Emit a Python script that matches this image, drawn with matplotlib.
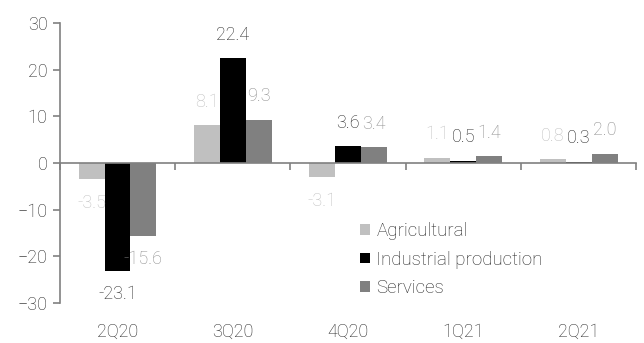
import matplotlib
matplotlib.use('Agg')
from matplotlib import pyplot as plt
import numpy as np

plt.rcParams['font.family'] = ['Roboto', 'DejaVu Sans']
plt.rcParams['font.weight'] = 'light'

quarters = ['2Q20', '3Q20', '4Q20', '1Q21', '2Q21']
agricultural = [-3.5, 8.1, -3.1, 1.1, 0.8]
industrial = [-23.1, 22.4, 3.6, 0.5, 0.3]
services = [-15.6, 9.3, 3.4, 1.4, 2.0]

series = [('Agricultural', agricultural, '#c0c0c0', '#c0c0c0'),
          ('Industrial production', industrial, '#000000', '#262626'),
          ('Services', services, '#808080', '#8c8c8c')]

fig = plt.figure(figsize=(6.44, 3.43), dpi=100)
ax = fig.add_axes([0.093, 0.1166, 0.895, 0.8163])

x = np.arange(len(quarters))
w = 0.225
for i, (name, vals, col, tcol) in enumerate(series):
    pos = x + (i - 1) * w
    ax.bar(pos, vals, width=w, color=col, label=name, zorder=2)
    for px, v in zip(pos, vals):
        off = 17 if v >= 0 else -17
        ax.annotate(f'{v:.1f}', (px, v), xytext=(0, off), textcoords='offset points',
                    ha='center', va='center', color=tcol, fontsize=13)

ax.set_xlim(-0.5, 4.5)
ax.set_ylim(-30, 30)
ax.set_yticks([-30, -20, -10, 0, 10, 20, 30])

gray = '#808080'
for s in ['top', 'right']:
    ax.spines[s].set_visible(False)
ax.spines['left'].set_color(gray)
ax.spines['left'].set_linewidth(1.2)
# bottom spine sits on zero, ticks mark the category boundaries
ax.spines['bottom'].set_position(('data', 0))
ax.spines['bottom'].set_color(gray)
ax.spines['bottom'].set_linewidth(1.2)
ax.spines['bottom'].set_zorder(3)
ax.set_xticks(np.arange(-0.5, 5, 1))
ax.tick_params(axis='x', direction='out', length=5, width=1.2, colors=gray, labelbottom=False)
ax.tick_params(axis='y', colors=gray, labelcolor='#262626', labelsize=13, length=5, width=1.2, pad=4)

# category labels at the bottom of the plot
sec = ax.secondary_xaxis('bottom')
sec.set_xticks(x)
sec.set_xticklabels(quarters)
sec.tick_params(axis='x', length=0, labelcolor='#262626', labelsize=13, pad=14)
sec.spines['bottom'].set_visible(False)

ax.legend(loc='center left', bbox_to_anchor=(0.492, 0.155), frameon=False, fontsize=13.5,
          handlelength=0.5, handleheight=0.5, handletextpad=0.35, labelspacing=0.55,
          labelcolor='#262626')

fig.savefig('out.png', dpi=100)
